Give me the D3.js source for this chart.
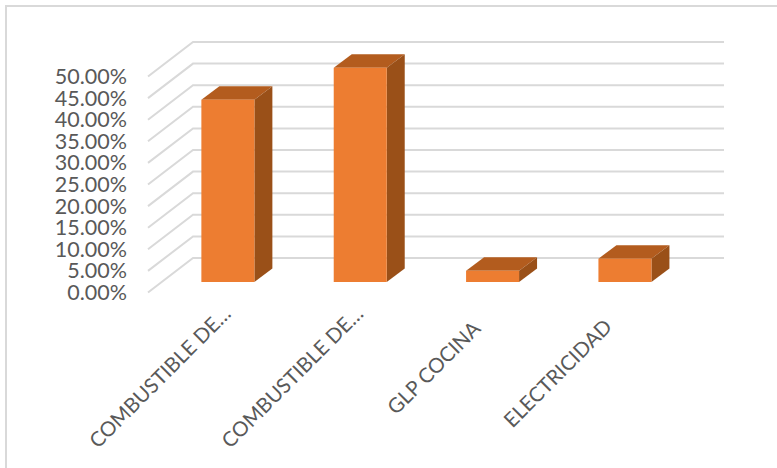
<!DOCTYPE html>
<html><head><meta charset="utf-8">
<script src="https://cdnjs.cloudflare.com/ajax/libs/d3/7.8.5/d3.min.js"></script>
<style>html,body{margin:0;background:#fff}svg{display:block}text{font-family:Lato,sans-serif;fill:#595959}</style>
</head><body><div id="c"></div>
<script>
const categories = ["COMBUSTIBLE DE…", "COMBUSTIBLE DE…", "GLP COCINA", "ELECTRICIDAD"];
const values = [0.422, 0.496, 0.026, 0.054];
const ticks = [0,0.05,0.1,0.15,0.2,0.25,0.3,0.35,0.4,0.45,0.5];

const W = 777, H = 468;
const svg = d3.select("#c").append("svg").attr("width", W).attr("height", H);
svg.append("rect").attr("x",6).attr("y",6).attr("width",W+10).attr("height",H+10)
  .attr("fill","#fff").attr("stroke","#d9d9d9").attr("stroke-width",2);

const depthX = 45, depthY = -34.5;
const x = d3.scaleBand().domain(d3.range(categories.length)).range([148, 677.4]);
const y = d3.scaleLinear().domain([0, 0.5]).range([292.5, 76.5]);
const barW = 53, bdx = 18, bdy = -13.5, odx = 13.7, ody = -10.5;

const grid = svg.append("g").attr("fill","none").attr("stroke","#d9d9d9").attr("stroke-width",2);
ticks.forEach(t => {
  const y0 = y(t);
  grid.append("path").attr("d", d3.line()([[148,y0],[148+depthX,y0+depthY],[724,y0+depthY]]));
});

svg.append("g").selectAll("text").data(ticks).join("text")
  .attr("x",127).attr("y",d=>y(d)+7.5).attr("text-anchor","end")
  .attr("font-size",21.5).text(d=>d3.format(".2f")(d*100)+"%");

const bars = svg.append("g").selectAll("g").data(values).join("g");
bars.each(function(d,i){
  const g = d3.select(this);
  const l = x(i)+x.bandwidth()/2-barW/2+odx, r = l+barW, b = y(0)+ody, t = y(d)+ody;
  const poly = p => p.map(q=>q.join(",")).join(" ");
  g.append("polygon").attr("points",poly([[l,t],[r,t],[r+bdx,t+bdy],[l+bdx,t+bdy]])).attr("fill","#b35c1e");
  g.append("polygon").attr("points",poly([[r,t],[r+bdx,t+bdy],[r+bdx,b+bdy],[r,b]])).attr("fill","#9a5018");
  g.append("rect").attr("x",l).attr("y",t).attr("width",barW).attr("height",b-t).attr("fill","#ed7d31");
});

const labelDx = [18, 18, 3, 2], labelY = [315, 315, 330, 328];
svg.append("g").selectAll("text").data(categories).join("text")
  .attr("text-anchor","end").attr("font-size",20.5)
  .attr("transform",(d,i)=>`translate(${x(i)+x.bandwidth()/2+labelDx[i]},${labelY[i]}) rotate(-45)`)
  .text(d=>d);
</script></body></html>
